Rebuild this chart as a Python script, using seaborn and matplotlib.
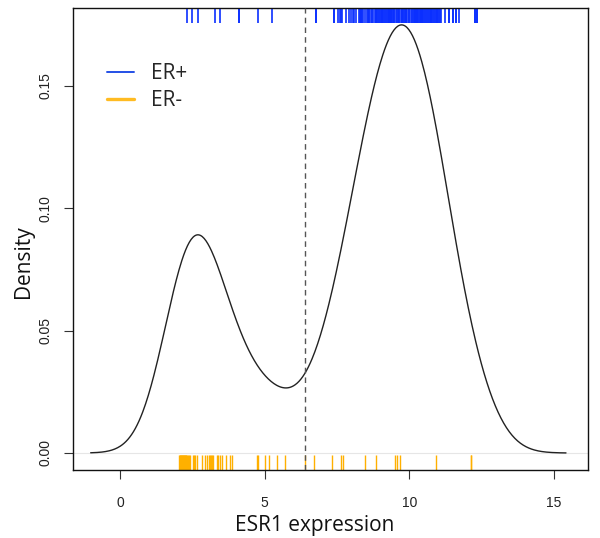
import matplotlib.pyplot as plt
from matplotlib.lines import Line2D
import numpy as np
import seaborn as sns

# ESR1 expression, read off the rug marks (dense stretches estimated)
er_pos = [2.33, 2.50, 2.70, 3.29, 3.46, 4.12, 4.13, 4.78, 5.27, 6.77,
          6.78, 7.38, 7.40,
          7.52, 7.60, 7.64, 7.68,
          7.82, 7.90, 7.98, 8.06, 8.10, 8.15, 8.25,
          8.30, 8.32, 8.34, 8.37, 8.41, 8.48, 8.53, 8.57, 8.59, 8.62,
          8.66, 8.71, 8.75,
          8.80, 8.83, 8.86, 8.89, 8.92, 8.95, 8.98, 9.01, 9.04, 9.07, 9.10,
          9.13, 9.16, 9.19, 9.22, 9.25, 9.28,
          9.31, 9.33, 9.36, 9.38, 9.41, 9.43, 9.46, 9.48, 9.53, 9.58, 9.61,
          9.63, 9.65, 9.70, 9.73, 9.75, 9.78,
          9.80, 9.85, 9.88, 9.90, 9.93, 9.98, 10.00,
          10.05, 10.08, 10.13, 10.15, 10.18, 10.20, 10.23,
          10.25, 10.28,
          10.30, 10.33, 10.36, 10.39, 10.40, 10.42, 10.45, 10.48, 10.51, 10.54,
          10.57, 10.60, 10.64, 10.67, 10.70, 10.73, 10.75, 10.76, 10.79,
          10.82, 10.85, 10.88, 10.91, 10.94, 10.97, 11.00, 11.03, 11.06, 11.09,
          11.24, 11.36, 11.37, 11.49, 11.50, 11.61, 11.62, 11.72,
          12.27, 12.28, 12.34, 12.35]

er_neg = [2.05, 2.06, 2.08, 2.10, 2.11, 2.13, 2.15, 2.17, 2.19, 2.21, 2.22,
          2.24, 2.26, 2.27, 2.29, 2.31,
          2.36, 2.39, 2.42, 2.52, 2.56, 2.61, 2.65, 2.83,
          2.94, 3.00, 3.07, 3.10, 3.14, 3.17, 3.23,
          3.34, 3.40, 3.46, 3.52, 3.67, 3.80, 3.86,
          4.75, 4.76, 5.01, 5.16, 5.44, 5.71,
          6.40, 6.71, 7.32, 7.63, 7.72, 8.47, 8.84, 9.51, 9.56, 9.68,
          10.92, 12.12, 12.13]

cutoff = 6.4
x_ticks = [0, 5, 10, 15]
y_ticks = [0.00, 0.05, 0.10, 0.15]

blue = '#0a2fff'
orange = '#ffb000'

sns.set_style('white')
plt.rcParams['font.family'] = ['Open Sans', 'DejaVu Sans']

fig = plt.figure(figsize=(6, 5.38), dpi=100)
ax = fig.add_axes([73 / 600, 1 - 470 / 538, 515 / 600, 462 / 538])

# density of all samples together, gaussian kernel with bandwidth ~0.9
values = np.array(er_pos + er_neg)
bw = 0.9
ax.axhline(0, color='#e6e6e6', lw=0.8, zorder=1)
sns.kdeplot(x=values, bw_method=bw / values.std(ddof=1), cut=3.4,
            gridsize=512, color='#222222', lw=1.0, ax=ax, zorder=3)

# rugs: ER+ along the top edge, ER- along the bottom
ax.vlines(er_pos, 0.968, 1, transform=ax.get_xaxis_transform(),
          colors=blue, lw=1.2, zorder=2)
sns.rugplot(x=er_neg, height=0.032, color=orange, lw=1.2, ax=ax, zorder=2)

ax.axvline(cutoff, color='#555555', lw=1, ls=(0, (4, 3)), zorder=4)

ax.set_xlim(-1.62, 16.17)
ax.set_ylim(-0.00695, 0.1819)
ax.set_xticks(x_ticks)
ax.set_yticks(y_ticks)
ax.set_xticklabels([str(t) for t in x_ticks])
ax.set_yticklabels([f'{t:.2f}' for t in y_ticks], rotation=90, va='center')
ax.tick_params(direction='out', length=6.5, width=0.8, color='#333333',
               labelsize=10, bottom=True, left=True)
ax.tick_params(axis='x', pad=12)
ax.tick_params(axis='y', pad=8)
for lbl in ax.get_xticklabels() + ax.get_yticklabels():
    lbl.set_fontfamily('Liberation Sans')
    lbl.set_color('#222222')

for side in ax.spines.values():
    side.set_color('#111111')
    side.set_linewidth(1)

ax.set_xlabel('ESR1 expression', fontsize=15, color='#111111')
ax.set_ylabel('Density', fontsize=15, color='#111111')
ax.xaxis.set_label_coords(0.47, -0.097)
ax.yaxis.set_label_coords(-0.075, 0.452)

handles = [Line2D([], [], color='#2450e6', lw=1.4),
           Line2D([], [], color='#ffbb22', lw=2.4)]
ax.legend(handles, ['ER+', 'ER-'], loc='upper left',
          bbox_to_anchor=(0.066, 0.881), frameon=False, fontsize=15,
          handlelength=1.3, handletextpad=0.8, labelspacing=0.3,
          borderpad=0, borderaxespad=0)

fig.savefig('out.png', dpi=100)
